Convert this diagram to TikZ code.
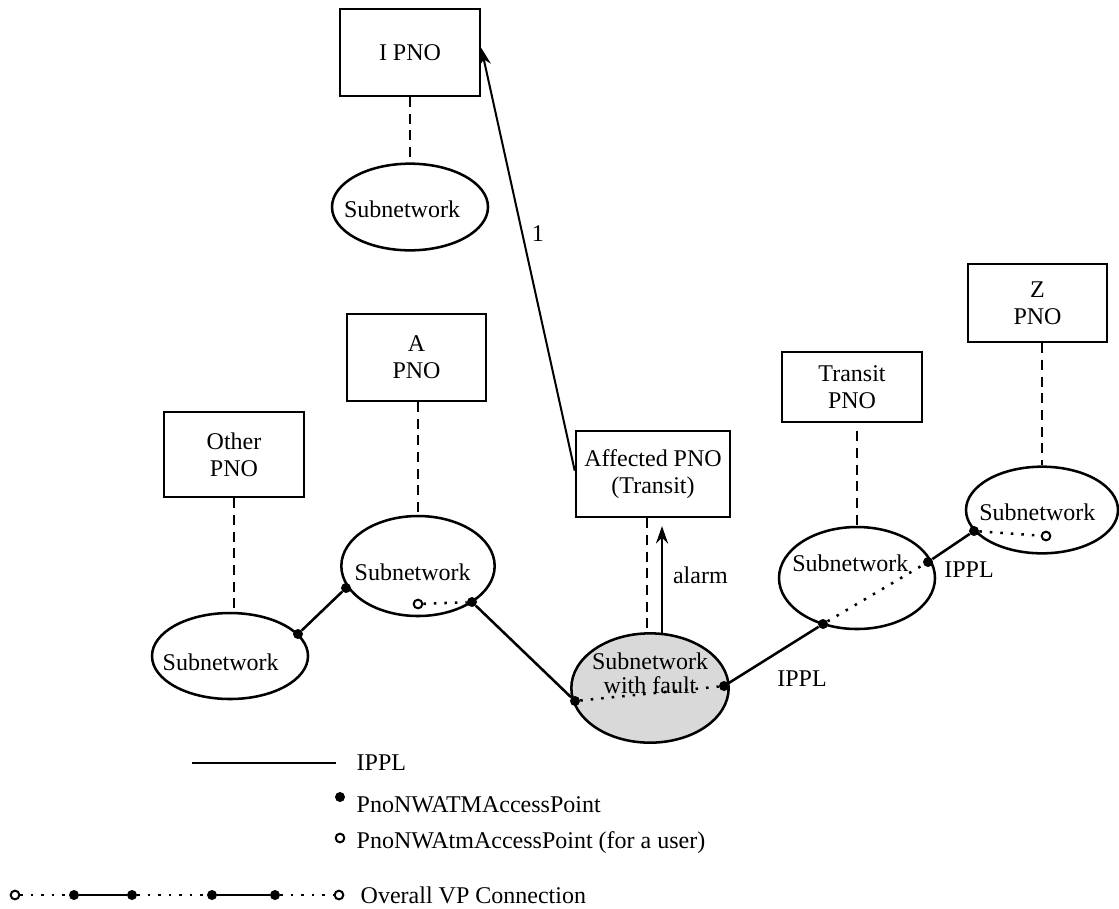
\documentclass[tikz,border=0pt]{standalone}
\usepackage{fontspec}
\setmainfont{Liberation Serif}
\usetikzlibrary{arrows.meta,calc,shapes.geometric}

\begin{document}
\begin{tikzpicture}[x=0.75pt, y=-0.75pt, >={Stealth[length=13pt,width=9pt]},
  font=\fontsize{18}{20}\selectfont,
  pno/.style={draw, line width=1.9pt, align=center, inner sep=0pt},
  subnet/.style={draw, ellipse, line width=1.9pt, inner sep=0pt, fill=white},
  ap/.style={circle, fill, inner sep=0pt, minimum size=7.5pt},
  userap/.style={circle, draw, fill=white, line width=1.5pt, inner sep=0pt, minimum size=6.5pt},
  ippl/.style={line width=1.9pt},
  vp/.style={line width=1.9pt, dash pattern=on 1.9pt off 6pt},
  mgmt/.style={line width=1.9pt, dash pattern=on 7.5pt off 5pt}]
\useasboundingbox (0,0) rectangle (1119,908);

% PNO boxes
\node[pno, minimum width=105pt, minimum height=65pt] (ipno) at (410,52.5) {I PNO};
\node[pno, minimum width=104pt, minimum height=65pt] (apno) at (416.5,357.5) {A\\PNO};
\node[pno, minimum width=105pt, minimum height=64pt] (opno) at (234,454.5) {Other\\PNO};
\node[pno, minimum width=115.5pt, minimum height=64.5pt] (fpno) at (653,474) {Affected PNO\\(Transit)};
\node[pno, minimum width=105pt, minimum height=52.5pt] (tpno) at (852,387) {Transit\\PNO};
\node[pno, minimum width=104pt, minimum height=58.5pt] (zpno) at (1037.5,303) {Z\\PNO};

% subnetworks
\node[subnet, minimum width=117pt, minimum height=65pt, label={[xshift=-6pt,yshift=-2pt]center:Subnetwork}] (sI) at (410,207) {};
\node[subnet, minimum width=115pt, minimum height=75pt, label={[xshift=-4pt,yshift=-4.5pt]center:Subnetwork}] (sA) at (418,566) {};
\node[subnet, minimum width=117pt, minimum height=64.5pt, label={[xshift=-7pt,yshift=-4.5pt]center:Subnetwork}] (sL) at (230,656) {};
\node[subnet, fill=black!15, minimum width=118pt, minimum height=82pt, label={[yshift=11pt,align=center,font=\fontsize{18}{18}\selectfont]center:Subnetwork\\with fault}] (sF) at (650,688) {};
\node[subnet, minimum width=117pt, minimum height=76.5pt, label={[xshift=-5pt,yshift=11pt]center:Subnetwork}] (sT) at (857,578) {};
\node[subnet, minimum width=114pt, minimum height=65pt, label={[xshift=-3.5pt,yshift=-2pt]center:Subnetwork}] (sZ) at (1042,510) {};

% access points
\node[ap] (d1) at (298,634) {};
\node[ap] (d2) at (346,588) {};
\node[ap] (d3) at (472,602) {};
\node[userap] (u1) at (418,604) {};
\node[ap] (d4) at (575,701) {};
\node[ap] (d5) at (724,686) {};
\node[ap] (d6) at (823,624) {};
\node[ap] (d7) at (928,562) {};
\node[ap] (d8) at (974,531) {};
\node[userap] (u2) at (1046,536) {};

% IPPLs and VP connection
\foreach \a/\b in {d1/d2,d3/d4,d5/d6,d7/d8}{\draw[ippl] (\a) -- (\b);}
\foreach \a/\b in {u1/d3,d4/d5,d6/d7,d8/u2}{\draw[vp] (\a) -- (\b);}
\node (ipplA) at (802,679) {IPPL};
\node (ipplB) at (969,570) {IPPL};

% management relations
\draw[mgmt] (ipno.south) -- (sI.north);
\draw[mgmt] (sA.north |- apno.south) -- (sA.north);
\draw[mgmt] (opno.south) -- (opno.south |- sL.north);
\draw[mgmt] ([xshift=-4.5pt]fpno.south) -- ([xshift=-4.5pt]fpno.south |- sF.north);
\draw[mgmt] ([yshift=-6pt]tpno.south -| sT.north) -- (sT.north);
\draw[mgmt] (zpno.south -| sZ.north) -- (sZ.north);

% alarm and report
\draw[->, line width=1.9pt] ($(sF.north)+(12,3)$) -- node[right=4pt, yshift=4pt] {alarm} ($(sF.north)+(12,-106)$);
\draw[->, line width=1.5pt] ([yshift=-30.75pt]fpno.north west) -- node[pos=0.56, right=3pt] {1} ([yshift=3.4pt]ipno.east);

% legend
\coordinate (lg1) at (192,763);
\coordinate (lg2) at (336,763);
\draw[ippl] (lg1) -- (lg2);
\node[anchor=west] (tx1) at (352,763) {IPPL};
\node[ap] (lgap) at (340,797) {};
\node[anchor=west] (tx2) at (352,805) {PnoNWATMAccessPoint};
\node[userap] (lguap) at (340,838) {};
\node[anchor=west] (tx3) at (352,843) {PnoNWAtmAccessPoint (for a user)};
\node[userap] (v0) at (15,895) {};
\node[ap] (v1) at (74,895) {};
\node[ap] (v2) at (132,895) {};
\node[ap] (v3) at (212,895) {};
\node[ap] (v4) at (275,895) {};
\node[userap] (v5) at (339,895) {};
\foreach \a/\b/\s in {v0/v1/vp,v1/v2/ippl,v2/v3/vp,v3/v4/ippl,v4/v5/vp}{\draw[\s] (\a) -- (\b);}
\node[anchor=west] (tx4) at (356,895) {Overall VP Connection};
\end{tikzpicture}
\end{document}
